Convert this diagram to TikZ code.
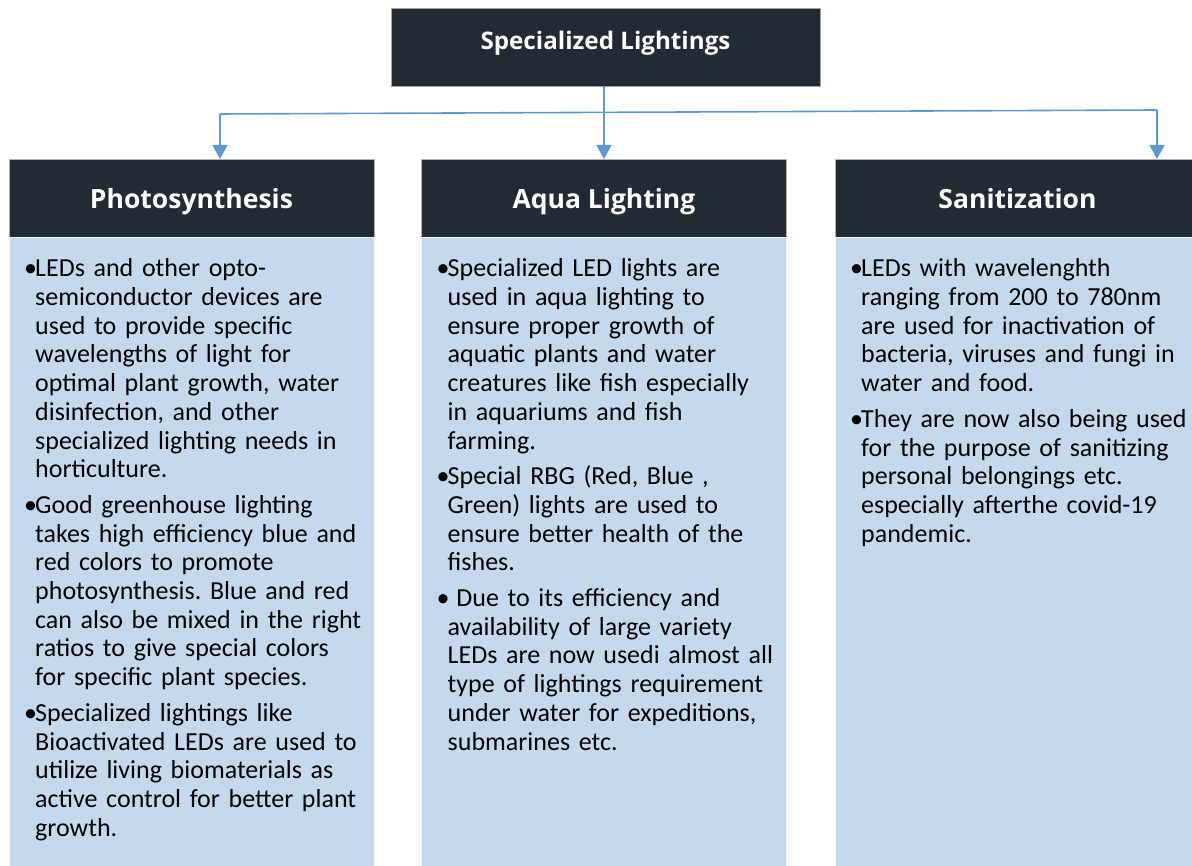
\documentclass[tikz,border=0pt]{standalone}
\usepackage{fontspec}
\setmainfont{Carlito}
\newfontfamily\headfont{Open Sans}
\usetikzlibrary{arrows.meta,positioning}
\frenchspacing
\definecolor{headnavy}{HTML}{222A35}
\definecolor{paneblue}{HTML}{C5D9EE}
\definecolor{linkblue}{HTML}{5B9BD5}
\tikzset{title box/.style={draw=black!35, fill=headnavy, text=white, inner sep=0pt, minimum width=429pt, minimum height=78pt}}
\tikzset{head box/.style={draw=black!30, fill=headnavy, text=white, inner sep=0pt, outer sep=0pt, minimum width=365pt, minimum height=78pt, text height=24pt, text depth=2pt, font=\headfont\bfseries\fontsize{26.5}{30}\selectfont}}
\tikzset{pane box/.style={draw=white!85!paneblue, fill=paneblue, inner sep=0pt, outer sep=0pt, minimum width=365pt, minimum height=640pt, anchor=north}}
\tikzset{pane text/.style={anchor=north west, inner sep=0pt, text width=352pt, align=left, font=\fontsize{26}{28.7}\selectfont}}
\tikzset{link edge/.style={draw=linkblue, line width=1.6pt}}
\tikzset{link arrow/.style={link edge, -{Triangle[length=14pt,width=15pt]}}}
% one bullet point with a hanging indent
\newcommand{\bitem}[1]{\par\hangindent=11pt\hangafter=1\noindent\makebox[11pt][l]{•}#1}
\newcommand{\bgap}{\par\vspace{7pt}}

\begin{document}
\begin{tikzpicture}[x=1pt,y=-1pt]
	\useasboundingbox (0,0) rectangle (1192,866);

	\node[title box] (top) at (605.5,47) {};
	\node[text=white, anchor=base, inner sep=0pt, font=\headfont\bfseries\fontsize{24.2}{28}\selectfont] (topText) at (605.5,50) {Specialized Lightings};

	\node[head box] (hPhoto) at (191.5,198) {Photosynthesis};
	\node[head box] (hAqua) at (604,198) {Aqua Lighting};
	\node[head box] (hSani) at (1017.5,198) {Sanitization};

	\node[pane box] (bPhoto) at (hPhoto.south) {};
	\node[pane box] (bAqua) at (hAqua.south) {};
	\node[pane box] (bSani) at (hSani.south) {};

	\node[pane text] (tPhoto) at ([xshift=15pt,yshift=-11pt]bPhoto.north west) {%
		\bitem{LEDs and other opto-\newline semiconductor devices are\newline used to provide specific\newline wavelengths of light for\newline optimal plant growth, water\newline disinfection, and other\newline specialized lighting needs in\newline horticulture.}\bgap
		\bitem{Good greenhouse lighting\newline takes high efficiency blue and\newline red colors to promote\newline photosynthesis. Blue and red\newline can also be mixed in the right\newline ratios to give special colors\newline for specific plant species.}\bgap
		\bitem{Specialized lightings like\newline Bioactivated LEDs are used to\newline utilize living biomaterials as\newline active control for better plant\newline growth.}\par};
	\node[pane text] (tAqua) at ([xshift=15pt,yshift=-11pt]bAqua.north west) {%
		\bitem{Specialized LED lights are\newline used in aqua lighting to\newline ensure proper growth of\newline aquatic plants and water\newline creatures like fish especially\newline in aquariums and fish\newline farming.}\bgap
		\bitem{Special RBG (Red, Blue ,\newline Green) lights are used to\newline ensure better health of the\newline fishes.}\bgap
		\bitem{ Due to its efficiency and\newline availability of large variety\newline LEDs are now usedi almost all\newline type of lightings requirement\newline under water for expeditions,\newline submarines etc.}\par};
	\node[pane text] (tSani) at ([xshift=15pt,yshift=-11pt]bSani.north west) {%
		\bitem{LEDs with wavelenghth\newline ranging from 200 to 780nm\newline are used for inactivation of\newline bacteria, viruses and fungi in\newline water and food.}\bgap
		\bitem{They are now also being used\newline for the purpose of sanitizing\newline personal belongings etc.\newline especially afterthe covid-19\newline pandemic.}\par};

	% fork from the title to the three columns
	\coordinate (forkL) at (220,114);
	\coordinate (forkR) at (1157,110);
	\draw[link edge] (forkL) -- (forkR);
	\draw[link arrow] (top.south -| hAqua.north) -- (hAqua.north);
	\draw[link arrow] (forkL) -- (forkL |- hPhoto.north);
	\draw[link arrow] (forkR) -- (forkR |- hSani.north);
\end{tikzpicture}
\end{document}
